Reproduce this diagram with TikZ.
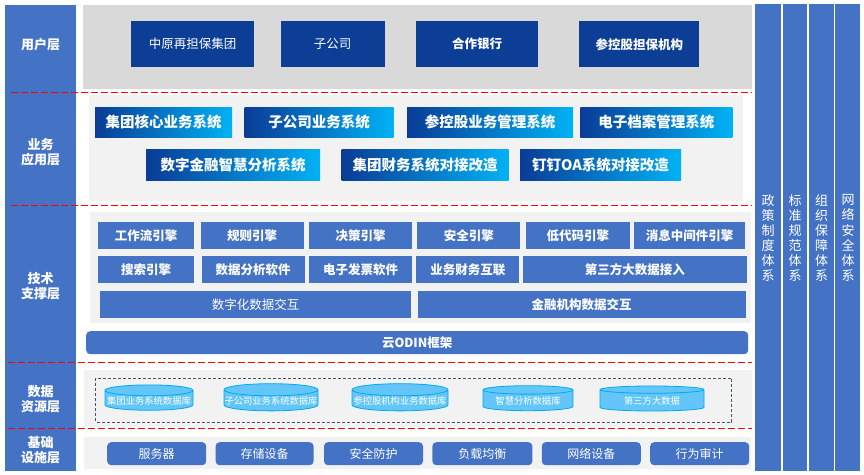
\documentclass[tikz,border=0pt]{standalone}
\usepackage{fontspec}
\setmainfont{Noto Sans CJK SC}
\usepackage{xcolor}
\usetikzlibrary{positioning,shapes.geometric}
\definecolor{layerblue}{RGB}{68,114,196}
\definecolor{usernavy}{RGB}{12,62,150}
\definecolor{appnavy}{RGB}{10,60,150}
\definecolor{appcyan}{RGB}{0,178,245}
\definecolor{panelgray}{RGB}{217,217,217}
\definecolor{panellight}{RGB}{242,242,242}
\definecolor{dbfill}{RGB}{100,198,248}
\definecolor{dbline}{RGB}{0,170,235}
\definecolor{boxline}{RGB}{68,84,106}

\begin{document}
\begin{tikzpicture}[
  x=1pt, y=-1pt,
  node distance= 6pt and 6pt,
  sidebar/.style={fill=layerblue, draw=none},
  layertext/.style={text=white, align=center, font=\fontsize{13}{15}\selectfont\bfseries},
  columntext/.style={text=white, align=center, font=\fontsize{13}{15.1}\selectfont},
  panel/.style={fill=#1, draw=none},
  ubox/.style={fill=usernavy, text=white, inner sep=0pt, minimum height=46pt, font=\fontsize{12.5}{14}\selectfont},
  abox/.style={left color=appnavy, right color=appcyan, text=white, inner sep=0pt, font=\fontsize{14.5}{16}\selectfont\bfseries},
  tbox/.style={fill=layerblue, text=white, inner sep=0pt, minimum height=27pt, font=\fontsize{12.5}{14}\selectfont\bfseries},
  dbnode/.style={cylinder, shape border rotate=90, aspect=0.13, draw=dbline, line width=0.8pt, fill=dbfill, text=white, inner sep=0pt, minimum height=25pt, font=\fontsize{9.3}{10}\selectfont},
  fbox/.style={fill=layerblue, text=white, inner sep=0pt, rounded corners=4pt, minimum height=23pt, font=\fontsize{12}{14}\selectfont},
  layerline/.style={red, line width=1.8pt, dash pattern=on 7pt off 3pt}
]
\useasboundingbox (0,0) rectangle (864,474);

% side bars
\fill[sidebar] (5,5) rectangle (76,471);
\fill[sidebar] (755,4) rectangle (780.5,471);
\fill[sidebar] (782.5,4) rectangle (807,471);
\fill[sidebar] (809,4) rectangle (833.5,471);
\fill[sidebar] (835,4) rectangle (860,471);

% panels
\fill[panel=panelgray] (83,5) rectangle (752,89);
\fill[panel=panellight] (89,95) rectangle (743,201);
\fill[panel=panellight] (90,212) rectangle (751,323);
\fill[panel=panellight] (84,370) rectangle (752,427);
\fill[panel=panellight] (84,437) rectangle (751,469);

% layer names
\node[layertext] (l1) at (40.5,45) {用户层};
\node[layertext] (l2) at (40.5,152) {业务\\应用层};
\node[layertext] (l3) at (40.5,286) {技术\\支撑层};
\node[layertext] (l4) at (40.5,399) {数据\\资源层};
\node[layertext] (l5) at (40.5,450) {基础\\设施层};

% columns
\node[columntext] (c1) at (768,238) {政\\策\\制\\度\\体\\系};
\node[columntext] (c2) at (795,238) {标\\准\\规\\范\\体\\系};
\node[columntext] (c3) at (821.5,238) {组\\织\\保\\障\\体\\系};
\node[columntext] (c4) at (848,238) {网\\络\\安\\全\\体\\系};

% user layer
\node[ubox, minimum width=123pt, anchor=north west] (u1) at (131,21) {中原再担保集团};
\node[ubox, minimum width=104pt, right=26pt of u1] (u2) {子公司};
\node[ubox, minimum width=122pt, right=31pt of u2, font=\fontsize{12.5}{14}\selectfont\bfseries] (u3) {合作银行};
\node[ubox, minimum width=120pt, right=41pt of u3, font=\fontsize{12.5}{14}\selectfont\bfseries] (u4) {参控股担保机构};

% application layer
\node[abox, minimum width=137pt, minimum height=30pt, anchor=north west] (a1) at (95,107) {集团核心业务系统};
\node[abox, minimum width=149pt, minimum height=30pt, right=12pt of a1] (a2) {子公司业务系统};
\node[abox, minimum width=166pt, minimum height=30pt, right=13pt of a2] (a3) {参控股业务管理系统};
\node[abox, minimum width=152pt, minimum height=30pt, right=7pt of a3] (a4) {电子档案管理系统};
\node[abox, minimum width=174pt, minimum height=31pt, anchor=north west] (a5) at (146,149) {数字金融智慧分析系统};
\node[abox, minimum width=167pt, minimum height=31pt, right=21pt of a5] (a6) {集团财务系统对接改造};
\node[abox, minimum width=161pt, minimum height=31pt, right=11pt of a6] (a7) {钉钉OA系统对接改造};

% technology layer
\node[tbox, minimum width=96pt, anchor=north west] (t1) at (98,222) {工作流引擎};
\node[tbox, minimum width=103pt, right=6pt of t1] (t2) {规则引擎};
\node[tbox, minimum width=103pt, right=5pt of t2] (t3) {决策引擎};
\node[tbox, minimum width=103pt, right=5pt of t3] (t4) {安全引擎};
\node[tbox, minimum width=104pt, right=5pt of t4] (t5) {低代码引擎};
\node[tbox, minimum width=111pt, right=4pt of t5] (t6) {消息中间件引擎};
\node[tbox, minimum width=96pt, anchor=north west] (s1) at (98,256) {搜索引擎};
\node[tbox, minimum width=103pt, right=7pt of s1] (s2) {数据分析软件};
\node[tbox, minimum width=103pt, right=4pt of s2] (s3) {电子发票软件};
\node[tbox, minimum width=103pt, right=4pt of s3] (s4) {业务财务互联};
\node[tbox, minimum width=224pt, right=3pt of s4] (s5) {第三方大数据接入};
\node[tbox, minimum width=311pt, anchor=north west, font=\fontsize{12.5}{14}\selectfont] (r1) at (100,291) {数字化数据交互};
\node[tbox, minimum width=328pt, right=6pt of r1] (r2) {金融机构数据交互};
\node[tbox, minimum width=662pt, minimum height=23pt, rounded corners=4pt, anchor=north west] (odin) at (86,331) {云ODIN框架};

% data layer
\draw[boxline, densely dashed, line width=0.6pt] (95.5,378) rectangle (731.5,422);
\node[dbnode, minimum width=88pt] (d1) at (149,400.5) {集团业务系统数据库};
\node[dbnode, minimum width=94pt] (d2) at (271,400.5) {子公司业务系统数据库};
\node[dbnode, minimum width=96pt] (d3) at (400,400.5) {参控股机构业务数据库};
\node[dbnode, minimum width=90pt] (d4) at (528,400.5) {智慧分析数据库};
\node[dbnode, minimum width=104pt] (d5) at (652,400.5) {第三方大数据};

% infrastructure layer
\node[fbox, minimum width=99pt, anchor=north west] (f1) at (107,442) {服务器};
\node[fbox, minimum width=98pt, right=9pt of f1] (f2) {存储设备};
\node[fbox, minimum width=99pt, right=10pt of f2] (f3) {安全防护};
\node[fbox, minimum width=100pt, right=9pt of f3] (f4) {负载均衡};
\node[fbox, minimum width=99pt, right=9pt of f4] (f5) {网络设备};
\node[fbox, minimum width=99pt, right=9pt of f5] (f6) {行为审计};

% layer borders
\coordinate (b1w) at (11,92.5);  \coordinate (b1e) at (752,92.5);
\coordinate (b2w) at (11,205.5); \coordinate (b2e) at (752,205.5);
\coordinate (b3w) at (8,362.5);  \coordinate (b3e) at (752,362.5);
\coordinate (b4w) at (8,428.5);  \coordinate (b4e) at (752,428.5);
\draw[layerline] (b1w) -- (b1e);
\draw[layerline] (b2w) -- (b2e);
\draw[layerline] (b3w) -- (b3e);
\draw[layerline] (b4w) -- (b4e);
\end{tikzpicture}
\end{document}
